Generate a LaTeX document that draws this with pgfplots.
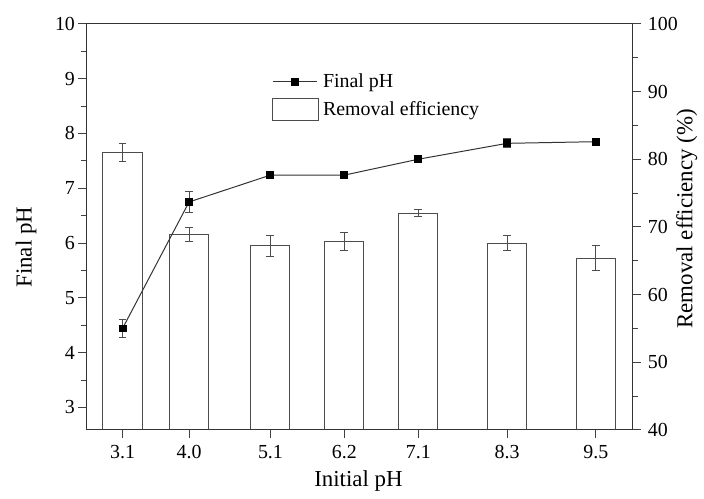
\documentclass[border=0pt]{standalone}
\usepackage{fontspec}
\setmainfont{Liberation Serif}
\usepackage{pgfplots}
\usepackage{pgfplotstable}
\pgfplotsset{compat=1.18}
\pgfplotsset{
  lineleg/.style={legend image code/.code={\draw[mark repeat=2, mark phase=2, ##1] plot coordinates {(0pt,0pt) (11pt,0pt) (22pt,0pt)};}},
  rectleg/.style={legend image code/.code={\draw[##1] (0pt,-5.5pt) rectangle (23pt,5.5pt);}},
}
\pgfplotstableread{
x    y     e
3.1  81.0  1.3
4.0  68.9  1.05
5.1  67.2  1.6
6.1  67.8  1.3
7.1  72.0  0.5
8.3  67.6  1.1
9.5  65.4  1.9
}\bardata
\pgfplotstableread{
x    y     e
3.1  4.44  0.16
4.0  6.75  0.19
5.1  7.24  0.0
6.1  7.24  0.0
7.1  7.53  0.0
8.3  7.82  0.08
9.5  7.85  0.0
}\phdata
\begin{document}
\begin{tikzpicture}
\path (0,0) rectangle (352pt,247.5pt);
\pgfplotsset{
  common/.style={
    scale only axis, width=274.65pt, height=204pt,
    at={(43.35pt,31.5pt)}, anchor=south west,
    xmin=2.61, xmax=10,
    /pgf/number format/assume math mode=true,
    tick label style={font=\fontsize{10}{12}\selectfont, color=black},
    label style={font=\fontsize{11.5}{13}\selectfont},
    tick align=outside,
    major tick length=4pt, minor tick length=2.5pt,
    every tick/.style={black!75, line width=0.5pt},
    every minor tick/.style={black!75, line width=0.5pt},
    axis line style={black!80, line width=0.6pt},
  }
}
% right axis with bars
\begin{axis}[common,
  ymin=40, ymax=100, ytick={40,50,...,100}, minor y tick num=1,
  axis y line*=right, hide x axis,
  ylabel={Removal efficiency (\%)},
  y label style={at={(axis description cs:1.109,0.52)}, anchor=base},
]
\addplot[ybar, bar width=19.65pt, draw=black!70, fill=white, line width=0.5pt,
  error bars/.cd, y dir=both, y explicit,
  error bar style={black!70, line width=0.5pt},
  error mark options={rotate=90, mark size=2pt, black!70, line width=0.5pt}]
  table[x=x, y=y, y error=e]{\bardata};
\end{axis}
% left axis with line
\begin{axis}[common,
  ymin=2.59, ymax=10, ytick={3,...,10}, minor y tick num=1,
  ytick pos=left, xtick pos=left,
  yticklabel style={inner xsep=1.5pt},
  xtick={3.1,4.0,5.1,6.1,7.1,8.3,9.5},
  xticklabels={3.1,4.0,5.1,6.2,7.1,8.3,9.5},
  xlabel={Initial pH}, ylabel={Final pH},
  x label style={at={(axis description cs:0.498,-0.14)}, anchor=base},
  y label style={at={(axis description cs:-0.1,0.45)}, anchor=base},
  legend style={at={(axis description cs:0.3397,0.889)}, anchor=north west,
    draw=none, fill=none, inner sep=0pt, row sep=1.5pt,
    font=\fontsize{10}{12}\selectfont},
  legend cell align=left,
]
\addplot[black!80, line width=0.5pt, mark=square*, mark size=1.75pt,
  mark options={fill=black, draw=black}, lineleg,
  error bars/.cd, y dir=both, y explicit,
  error bar style={black!70, line width=0.5pt},
  error mark options={rotate=90, mark size=2pt, black!70, line width=0.5pt}]
  table[x=x, y=y, y error=e]{\phdata};
\addlegendentry{Final pH}
\addlegendimage{draw=black!70, fill=white, line width=0.5pt, rectleg}
\addlegendentry{Removal efficiency}
\end{axis}
\end{tikzpicture}
\end{document}
